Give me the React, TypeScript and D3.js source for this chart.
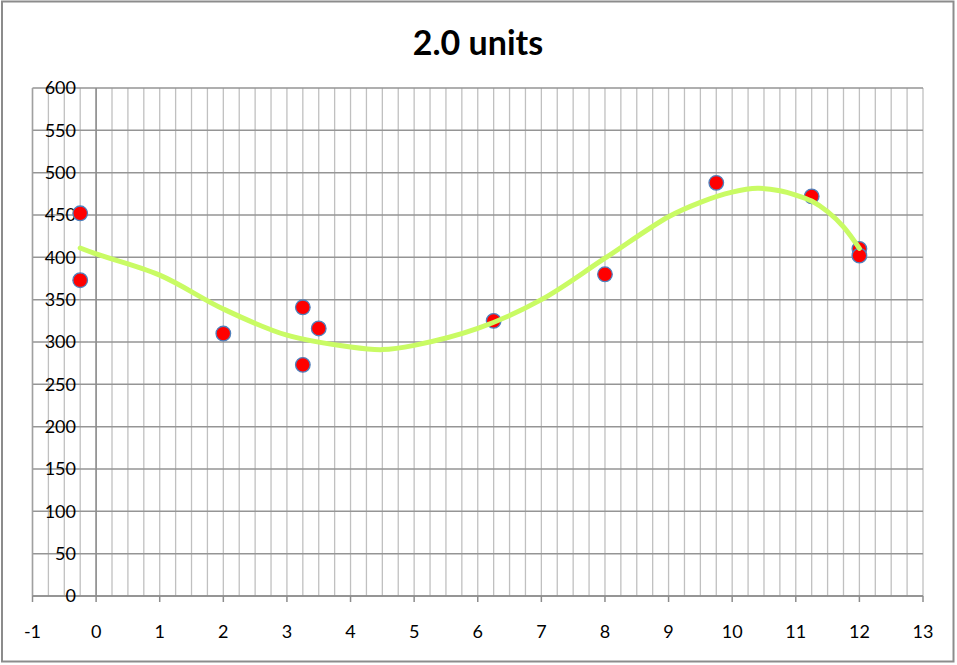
import React from "react";
import * as d3 from "d3";

const titleText = "2.0 units";
const xTicks = d3.range(-1, 14, 1);
const yTicks = d3.range(0, 601, 50);
const xMinorStep = 0.25;

const pointsX = [-0.25, -0.25, 2, 3.25, 3.25, 3.5, 6.25, 8, 9.75, 11.25, 12, 12];
const pointsY = [452, 373, 310, 341, 273, 316, 325, 380, 488, 472, 410, 402];

const curveX = [-0.25, 0, 1, 2, 3, 4, 4.5, 5, 6, 7, 8, 9, 9.5, 10, 10.4, 10.75, 11, 11.25, 11.5, 11.75, 12];
const curveY = [411, 404, 379, 339, 308, 294, 291, 296, 316, 350, 399, 448, 465, 477, 481.5, 478.7, 473.6, 466.5, 454, 436, 410.6];

const W = 957;
const H = 665;
const font = "Lato, 'Open Sans', sans-serif";

export default function App() {
  const x = d3.scaleLinear().domain([-1, 13]).range([32.5, 923]);
  const y = d3.scaleLinear().domain([0, 600]).range([596, 88]);
  const minor = d3.range(-1, 13.0001, xMinorStep);
  const pts = pointsX.map((v, i) => [v, pointsY[i]] as [number, number]);
  const cpts = curveX.map((v, i) => [v, curveY[i]] as [number, number]);
  const line = d3
    .line<[number, number]>()
    .x((d) => x(d[0]))
    .y((d) => y(d[1]))
    .curve(d3.curveCatmullRom.alpha(0.5));

  return (
    <div style={{ position: "fixed", left: 0, top: 0, width: W, height: H, background: "#fff" }}>
      <svg width={W} height={H} style={{ display: "block" }}>
        <rect x={2} y={1.5} width={951.5} height={660} fill="#fff" stroke="#8c8c8c" strokeWidth={2} />
        <text x={478} y={55} textAnchor="middle" fontFamily={font} fontWeight="bold" fontSize={34} fill="#000">
          {titleText}
        </text>
        {minor.map((v) => (
          <line key={"vx" + v} x1={x(v)} x2={x(v)} y1={y(600)} y2={y(0)} stroke="#c0c0c0" strokeWidth={1.3} />
        ))}
        {yTicks.map((v) => (
          <line key={"hy" + v} x1={x(-1)} x2={x(13)} y1={y(v)} y2={y(v)} stroke="#959595" strokeWidth={1.5} />
        ))}
        <line x1={x(-1)} x2={x(-1)} y1={y(600)} y2={y(0)} stroke="#a0a0a0" strokeWidth={1.5} />
        <line x1={x(0)} x2={x(0)} y1={y(600)} y2={y(0)} stroke="#8c8c8c" strokeWidth={1.5} />
        <line x1={x(-1)} x2={x(13)} y1={y(0)} y2={y(0)} stroke="#8c8c8c" strokeWidth={1.5} />
        {xTicks.map((v) => (
          <line key={"tx" + v} x1={x(v)} x2={x(v)} y1={y(0)} y2={y(0) + 6} stroke="#8c8c8c" strokeWidth={1.5} />
        ))}
        {xTicks.map((v) => (
          <text key={"lx" + v} x={x(v)} y={y(0) + 42} textAnchor="middle" fontFamily={font} fontSize={18} fill="#000">
            {v}
          </text>
        ))}
        {yTicks.map((v) => (
          <text key={"ly" + v} x={76} y={y(v)} dy="0.36em" textAnchor="end" fontFamily={font} fontSize={18} fill="#000">
            {v}
          </text>
        ))}
        {pts.map((d, i) => (
          <circle key={"p" + i} cx={x(d[0])} cy={y(d[1])} r={7.3} fill="#ff0000" stroke="#4f81bd" strokeWidth={1.3} />
        ))}
        <path d={line(cpts) || ""} fill="none" stroke="#c9fb64" strokeWidth={5} strokeLinecap="round" />
      </svg>
    </div>
  );
}
